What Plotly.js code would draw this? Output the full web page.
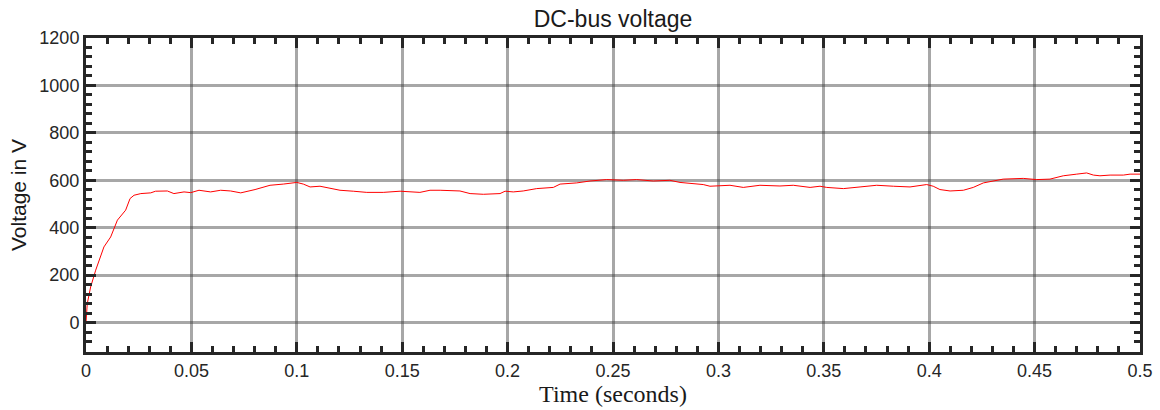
<!DOCTYPE html>
<html>
<head>
<meta charset="utf-8">
<script src="https://cdn.plot.ly/plotly-3.0.1.min.js"></script>
<style>html,body{margin:0;padding:0;background:#fff;}#chart{width:1160px;height:410px;}</style>
</head>
<body>
<div id="chart"></div>
<script>
const timeS = [0, 0.0006, 0.0022, 0.0046, 0.0085, 0.0117, 0.0149, 0.0188, 0.0209, 0.0228, 0.026, 0.0307, 0.033, 0.0386, 0.0417, 0.0465, 0.0497, 0.0536, 0.0591, 0.0639, 0.0686, 0.0734,
  0.0802, 0.0873, 0.0936, 0.1, 0.1031, 0.1063, 0.111, 0.1157, 0.1205, 0.1268, 0.1332, 0.141, 0.149, 0.1584, 0.1632, 0.168,
  0.1774, 0.1822, 0.1885, 0.1964, 0.1988, 0.2027, 0.2074, 0.2138, 0.2217, 0.2249, 0.2328, 0.2391, 0.247, 0.2549,
  0.2612, 0.2691, 0.277, 0.2818, 0.2865, 0.2928, 0.296, 0.3008, 0.3055, 0.3118, 0.3197, 0.3292, 0.3355, 0.3435, 0.3482,
  0.3514, 0.3593, 0.3672, 0.3751, 0.383, 0.3909, 0.3988, 0.4019, 0.4051, 0.4099, 0.4162, 0.4209, 0.4257, 0.4296, 0.4351,
  0.4446, 0.451, 0.4573, 0.4636, 0.47, 0.4747, 0.4779, 0.481, 0.4858, 0.4921, 0.4953, 0.5];
const voltage = [0, 80, 150, 221, 319, 361, 432, 474, 523, 537, 544, 547, 554, 555, 544, 551, 548, 558, 551, 558, 555, 547,
  561, 579, 584, 591, 584, 572, 575, 565, 558, 554, 549, 549, 554, 549, 558, 558,
  555, 544, 541, 544, 554, 551, 555, 565, 570, 584, 589, 597, 603, 600,
  603, 597, 600, 591, 587, 582, 575, 576, 579, 570, 579, 576, 579, 570, 575,
  570, 565, 572, 579, 575, 572, 582, 575, 561, 555, 558, 570, 589, 597, 605,
  608, 603, 605, 619, 626, 631, 622, 619, 622, 622, 626, 626];
const xTickVals = [0, 0.05, 0.1, 0.15, 0.2, 0.25, 0.3, 0.35, 0.4, 0.45, 0.5];
const xTickText = ['0', '0.05', '0.1', '0.15', '0.2', '0.25', '0.3', '0.35', '0.4', '0.45', '0.5'];
const yTickVals = [0, 200, 400, 600, 800, 1000, 1200];

const trace = {x: timeS, y: voltage, type: 'scatter', mode: 'lines', line: {color: '#ff0000', width: 1}, hoverinfo: 'none'};
const gridCol = 'rgba(60,60,60,0.45)';
const layout = {
  width: 1160, height: 410,
  margin: {l: 86, r: 20, t: 38, b: 58},
  paper_bgcolor: '#fff', plot_bgcolor: '#fff',
  showlegend: false,
  font: {family: 'Liberation Sans, Arial, sans-serif', color: '#262626', size: 18},
  title: {text: 'DC-bus voltage', x: 0.5, xanchor: 'center', xref: 'paper', y: 0.955, yanchor: 'middle', yref: 'container', font: {size: 23, color: '#1a1a1a'}},
  xaxis: {
    range: [0, 0.5], tickvals: xTickVals, ticktext: xTickText,
    showline: true, linecolor: '#262626', linewidth: 3, mirror: 'allticks',
    ticks: 'inside', ticklen: 10, tickwidth: 3, tickcolor: '#262626',
    showgrid: true, gridcolor: gridCol, gridwidth: 3, zeroline: false,
    minor: {dtick: 0.01, tick0: 0, ticks: 'inside', ticklen: 6, tickwidth: 3, tickcolor: '#262626', showgrid: false},
    tickfont: {size: 18, color: '#262626'},
    title: {text: 'Time (seconds)', font: {family: 'Liberation Serif, Times New Roman, serif', size: 24, color: '#1a1a1a'}, standoff: 2}
  },
  yaxis: {
    range: [-124, 1200], tickvals: yTickVals,
    showline: true, linecolor: '#262626', linewidth: 3, mirror: 'allticks',
    ticks: 'inside', ticklen: 10, tickwidth: 3, tickcolor: '#262626',
    showgrid: true, gridcolor: gridCol, gridwidth: 3, zeroline: false,
    minor: {dtick: 40, tick0: 0, ticks: 'inside', ticklen: 6, tickwidth: 3, tickcolor: '#262626', showgrid: false},
    tickfont: {size: 18, color: '#262626'},
    title: {text: 'Voltage in V', font: {size: 21, color: '#1a1a1a'}, standoff: 8}
  }
};
Plotly.newPlot('chart', [trace], layout, {staticPlot: true, displayModeBar: false});
</script>
</body>
</html>
